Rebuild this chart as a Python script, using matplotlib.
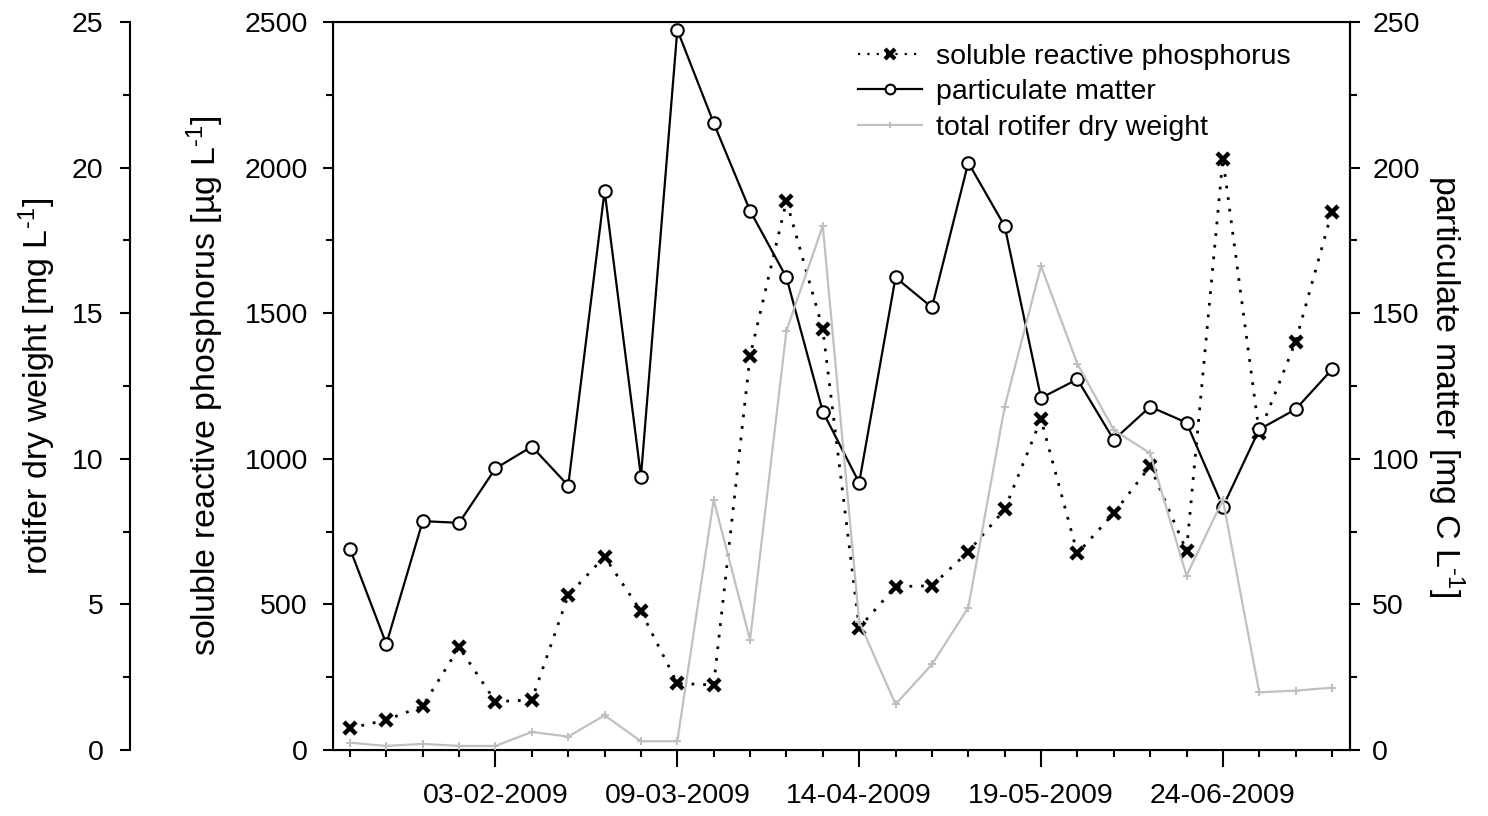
import matplotlib
matplotlib.use('Agg')
import matplotlib.pyplot as plt
from matplotlib.lines import Line2D
from matplotlib.ticker import MultipleLocator, FixedLocator

plt.rcParams['font.family'] = ['Liberation Sans', 'DejaVu Sans']
plt.rcParams['mathtext.fontset'] = 'custom'
plt.rcParams['mathtext.rm'] = 'Liberation Sans'
plt.rcParams['mathtext.default'] = 'regular'

# ---- data (weekly samples, 28 sampling occasions) ----
sample_no = list(range(1, 29))
srp = [75, 103, 151, 353, 166, 172, 531, 664, 476, 229, 223, 1353, 1885, 1445, 420,
       561, 564, 681, 826, 1136, 675, 813, 975, 684, 2031, 1088, 1402, 1849]
particulate = [69.1, 36.4, 78.6, 78.0, 96.7, 104.2, 90.8, 192.0, 93.9, 247.3, 215.3,
               185.2, 162.3, 116.2, 91.8, 162.3, 152.0, 201.7, 179.9, 120.9, 127.3,
               106.5, 117.9, 112.4, 83.5, 110.1, 117.0, 130.7]
rotifer = [0.25, 0.14, 0.21, 0.14, 0.14, 0.62, 0.46, 1.19, 0.30, 0.30, 8.59, 3.78,
           14.40, 18.0, 4.41, 1.57, 2.94, 4.89, 11.79, 16.62, 13.26, 10.99, 10.19,
           5.99, 8.59, 1.98, 2.04, 2.14]
label_samples = [5, 10, 15, 20, 25]
label_dates = ['03-02-2009', '09-03-2009', '14-04-2009', '19-05-2009', '24-06-2009']

W, H = 1488, 816
fig = plt.figure(figsize=(W / 100, H / 100), dpi=100)
L, R, T, B = 333, 1350, 22, 750
ax = fig.add_axes([L / W, 1 - B / H, (R - L) / W, (B - T) / H])
ax2 = ax.twinx()
ax3 = ax.twinx()

gray = '#c0c0c0'
ax.plot(sample_no, srp, linestyle=(0, (1, 3.2)), color='black', lw=2.0, marker='x',
        markersize=9, markeredgewidth=3.2, zorder=3)
ax2.plot(sample_no, particulate, '-', color='black', lw=1.6, marker='o', markersize=9,
         markerfacecolor='white', markeredgecolor='black', markeredgewidth=1.5, zorder=3)
ax3.plot(sample_no, rotifer, '-', color=gray, lw=1.6, marker='P', markersize=5.5,
         markeredgewidth=0, markerfacecolor=gray, zorder=3)

ax.set_xlim(sample_no[0] - 0.467, sample_no[-1] + 0.495)
ax.set_ylim(0, 2500)
ax2.set_ylim(0, 250)
ax3.set_ylim(0, 25)

# x ticks
ax.xaxis.set_major_locator(FixedLocator(label_samples))
ax.xaxis.set_minor_locator(FixedLocator(sample_no))
ax.set_xticklabels(label_dates)
ax.tick_params(axis='x', which='major', direction='out', length=12, width=1.5,
               labelsize=20.5, pad=12)
ax.tick_params(axis='x', which='minor', direction='out', length=5, width=1.5)

# y ticks
ax.yaxis.set_major_locator(MultipleLocator(500))
ax.yaxis.set_minor_locator(MultipleLocator(250))
ax2.yaxis.set_major_locator(MultipleLocator(50))
ax2.yaxis.set_minor_locator(MultipleLocator(25))
ax3.yaxis.set_major_locator(MultipleLocator(5))
ax3.yaxis.set_minor_locator(MultipleLocator(2.5))
for a, p in ((ax, 11), (ax2, 9), (ax3, 12)):
    a.tick_params(axis='y', which='major', direction='out', length=7, width=1.5,
                  labelsize=20.5, pad=p)
    a.tick_params(axis='y', which='minor', direction='out', length=5, width=1.5)

for s in ax.spines.values():
    s.set_linewidth(1.5)
ax2.spines['right'].set_linewidth(1.5)

ax3.yaxis.set_ticks_position('left')
ax3.yaxis.set_label_position('left')
ax3.spines['left'].set_position(('axes', (130 - L) / (R - L)))
for k in ('right', 'top', 'bottom'):
    ax3.spines[k].set_visible(False)
ax3.spines['left'].set_visible(True)
ax3.spines['left'].set_linewidth(1.5)

sup = r'$^{\text{-1}}$'
ax.set_ylabel('soluble reactive phosphorus [µg L' + sup + ']', fontsize=24.5, va='center')
ax.yaxis.set_label_coords((205 - L) / (R - L), (B - 386) / (B - T))
ax3.set_ylabel('rotifer dry weight [mg L' + sup + ']', fontsize=24.5, va='center')
ax3.yaxis.set_label_coords((37 - L) / (R - L), (B - 386) / (B - T))
ax2.set_ylabel('particulate matter [mg C L' + sup + ']', fontsize=24.5, rotation=270,
               va='center')
ax2.yaxis.set_label_coords((1446 - L) / (R - L), (B - 386) / (B - T))

handles = [
    Line2D([], [], linestyle=(0, (1, 3.2)), color='black', lw=1.6, marker='x',
           markersize=7, markeredgewidth=3),
    Line2D([], [], linestyle='-', color='black', lw=1.6, marker='o', markersize=7,
           markerfacecolor='white', markeredgecolor='black', markeredgewidth=1.5),
    Line2D([], [], linestyle='-', color=gray, lw=1.6, marker='P', markersize=4.5,
           markeredgewidth=0, markerfacecolor=gray),
]
labels = ['soluble reactive phosphorus', 'particulate matter', 'total rotifer dry weight']
ax3.legend(handles, labels, loc='upper left', bbox_to_anchor=(858 / W, 1 - 44 / H),
           bbox_transform=fig.transFigure, frameon=False, fontsize=20.5,
           handlelength=2.25, handletextpad=0.5, labelspacing=0.33, borderpad=0,
           borderaxespad=0)

fig.savefig('out.png', dpi=100)
